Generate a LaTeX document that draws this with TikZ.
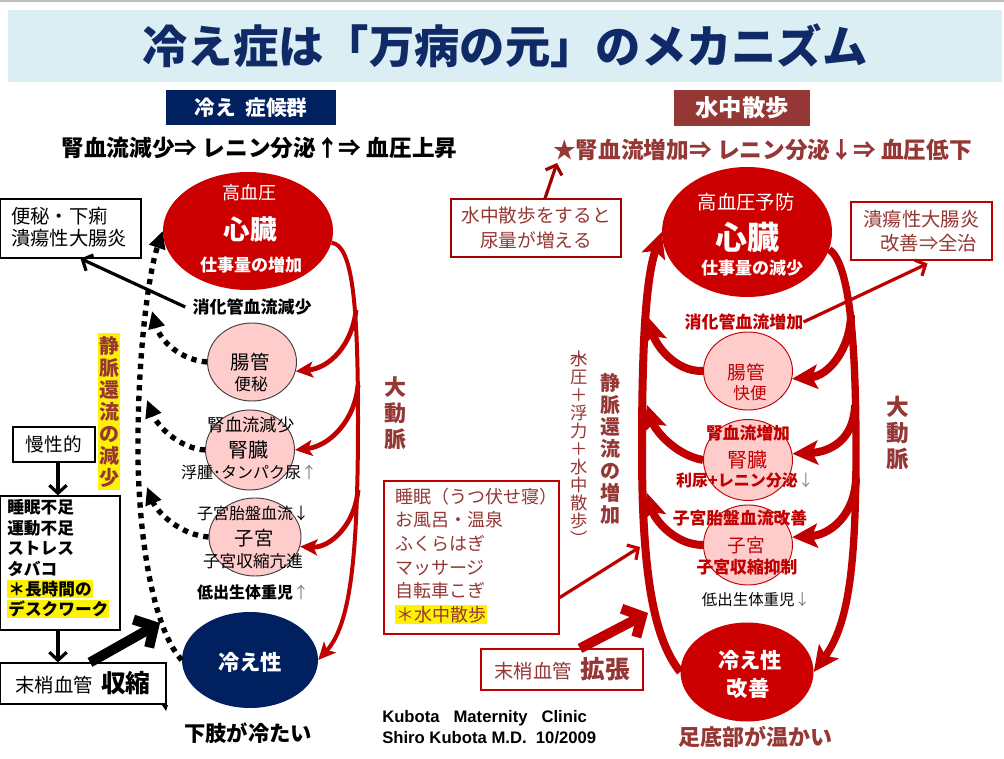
\documentclass[tikz,border=0pt]{standalone}
\usepackage{fontspec}
\setmainfont{Noto Sans CJK JP}
\newfontfamily\latf{Liberation Sans}
\usetikzlibrary{shapes.geometric,arrows.meta,calc}
\definecolor{navy}{HTML}{002060}
\definecolor{cRed}{HTML}{C00000}
\definecolor{hRed}{HTML}{CC0000}
\definecolor{dRed}{HTML}{953735}
\definecolor{pinkc}{HTML}{FFCCCC}
\definecolor{bannerc}{HTML}{DBEEF4}
\definecolor{titlec}{HTML}{0F2A66}
\newcommand\yhl[1]{{\setlength\fboxsep{0.8pt}\colorbox{yellow}{#1}}}
\newcommand\fsz[1]{\fontsize{#1}{\fpeval{1.2*#1}}\selectfont}
\tikzset{
  lbl/.style={inner sep=0pt, align=center},
  organL/.style={ellipse, inner sep=0pt, fill=pinkc, draw=black!75, line width=0.7pt},
  organR/.style={ellipse, inner sep=0pt, fill=pinkc, draw=cRed, line width=0.7pt},
  boxK/.style={draw=black, line width=0.9pt, inner sep=0pt},
  boxR/.style={draw=cRed, line width=0.9pt, inner sep=0pt},
  aortaL/.style={draw=cRed, line width=3pt, -{Stealth[length=13pt,width=12pt,inset=3pt]}},
  branchL/.style={draw=cRed, line width=3.6pt, -{Stealth[length=13pt,width=12pt,inset=3pt]}},
  aortaR/.style={draw=cRed, line width=5.5pt, -{Stealth[length=19pt,width=18pt,inset=4pt]}},
  branchR/.style={draw=cRed, line width=6pt, -{Stealth[length=19pt,width=18pt,inset=4pt]}},
  dotline/.style={draw=black, line width=4pt, dash pattern=on 4pt off 4pt, -{Triangle[length=13pt,width=12pt]}},
  barbK/.style={draw=black, line width=2.4pt, -{Straight Barb[length=6pt,width=13pt]}},
  barbR/.style={draw=cRed, line width=2.4pt, -{Straight Barb[length=6pt,width=13pt]}},
  fatK/.style={draw=black, line width=7.5pt, -{Straight Barb[length=11pt,width=24pt]}},
  fatR/.style={draw=cRed, line width=7.5pt, -{Straight Barb[length=11pt,width=24pt]}},
}
\begin{document}
\begin{tikzpicture}[x=0.75pt,y=-0.75pt]
\useasboundingbox (0,0) rectangle (1004,759);
\fill[white] (0,0) rectangle (1004,759);
\draw[black!25, line width=1pt] (0,1) -- (1004,1);
% banner and title
\node[fill=bannerc, minimum width=745.5pt, minimum height=54pt, inner sep=0pt, anchor=north west] (ban) at (8,10) {};
\node[lbl, text=titlec, font=\fsz{34}\bfseries] (title) at (505,46) {冷え症は「万病の元」のメカニズム};
% headers
\node[fill=navy, text=white, font=\fsz{15.5}\bfseries, minimum width=127.5pt, minimum height=26.25pt, inner sep=0pt] (hL) at (251,107.5) {冷え\ \ 症候群};
\node[fill=dRed, text=white, font=\fsz{17.5}\bfseries, minimum width=102pt, minimum height=27pt, inner sep=0pt] (hR) at (742,108) {水中散歩};
\node[lbl, font=\fsz{17}\bfseries] (sL) at (259.5,148) {腎血流減少⇒ レニン分泌↑⇒ 血圧上昇};
\node[lbl, text=dRed, font=\fsz{17}\bfseries] (sR) at (762.5,150) {★腎血流増加⇒ レニン分泌↓⇒ 血圧低下};

% ---------------- left column ----------------
\node[ellipse, inner sep=0pt, fill=hRed, minimum width=127.5pt, minimum height=88.5pt] (LH) at (248,231) {};
\node[lbl, text=white, font=\fsz{13.5}] (tLH1) at (249,193) {高血圧};
\node[lbl, text=white, font=\fsz{20}\bfseries] (tLH2) at (250,229) {心臓};
\node[lbl, text=white, font=\fsz{12.75}\bfseries] (tLH3) at (251,265) {仕事量の増加};

\node[organL, minimum width=66.75pt, minimum height=58.5pt] (LI) at (252,362) {};
\node[lbl, font=\fsz{14.5}] (tLI1) at (250,362) {腸管};
\node[lbl, font=\fsz{12.5}] (tLI2) at (251,384) {便秘};
\node[lbl, font=\fsz{12.75}\bfseries] (t1) at (252,307) {消化管血流減少};

\node[organL, minimum width=66.75pt, minimum height=60pt] (LK) at (250,450) {};
\node[lbl, font=\fsz{13}] (tLK0) at (251,425) {腎血流減少};
\node[lbl, font=\fsz{15}] (tLK1) at (248,450) {腎臓};
\node[lbl, font=\fsz{12}] (tLK2) at (249,472) {浮腫･タンパク尿{\color{black!50}↑}};

\node[organL, minimum width=69pt, minimum height=58.5pt] (LU) at (255,537) {};
\node[lbl, font=\fsz{12}] (tLU0) at (253,513) {子宮胎盤血流↓};
\node[lbl, font=\fsz{14.5}] (tLU1) at (254,538) {子宮};
\node[lbl, font=\fsz{12.5}] (tLU2) at (253,561) {子宮収縮亢進};
\node[lbl, font=\fsz{12}\bfseries] (tLB1) at (253,592) {低出生体重児{\color{black!50}\mdseries↑}};

\node[ellipse, inner sep=0pt, fill=navy, minimum width=102pt, minimum height=72pt] (LC) at (250,660) {};
\node[lbl, text=white, font=\fsz{16}\bfseries] (tLC) at (250,662) {冷え性};
\node[lbl, font=\fsz{16}\bfseries] (tLC2) at (248,733) {下肢が冷たい};

\node[lbl, text=dRed, font=\fontsize{16.5}{19.5}\selectfont\bfseries] (vL) at (395,413) {大\\動\\脈};
\node[fill=yellow, text=dRed, font=\fontsize{15}{16.5}\selectfont\bfseries, align=center, inner xsep=1pt, inner ysep=2pt] (vY) at (109,411.5) {静\\脈\\還\\流\\の\\減\\少};

\node[boxK, minimum width=105.75pt, minimum height=44.25pt] (LB) at (70.5,228.5) {};
\node[inner sep=0pt, align=left, anchor=west, font=\fontsize{14.5}{16.5}\selectfont] (tLB) at (11,227) {便秘・下痢\\潰瘍性大腸炎};

\node[boxK, minimum width=61.5pt, minimum height=26.25pt, font=\fsz{14}] (m1) at (54,444.5) {慢性的};
\node[boxK, minimum width=90pt, minimum height=100.5pt] (LL) at (60,563) {};
\node[inner sep=0pt, align=left, anchor=west, font=\fontsize{12.5}{15.3}\selectfont\bfseries] (tLL) at (7,559) {睡眠不足\\運動不足\\ストレス\\タバコ\\\yhl{＊長時間の}\\\yhl{デスクワーク}};
\node[boxK, minimum width=124.5pt, minimum height=30.75pt, font=\fsz{14.5}] (LS) at (83,683.5) {末梢血管\ \ {\fsz{18.5}\bfseries 収縮}};
\coordinate (bigK) at (160,623);
\fill[black] (162,705) -- (168,705) -- (166,711) -- cycle;

% left connectors
\coordinate (ab1) at (356,310);
\coordinate (ab2) at (358,385);
\coordinate (ab3) at (358,490);
\draw[aortaL] (LH.-8) .. controls (352,245) and (358,300) .. (358,420) .. controls (358,560) and (350,625) .. (LC.east);
\draw[branchL] (ab1) .. controls (352,345) and (330,368) .. (LI.-12);
\draw[branchL] (ab2) .. controls (355,420) and (330,446) .. (LK.east);
\draw[branchL] (ab3) .. controls (355,525) and (330,548) .. (LU.-12);
\coordinate (dt1) at (152,311);
\coordinate (dt2) at (147,400);
\coordinate (dt3) at (147,487);
\draw[dotline] (LC.west) .. controls (158,635) and (140,560) .. (138,460) .. controls (137,360) and (148,275) .. (LH.west);
\draw[dotline] (LI.west) .. controls (180,360) and (160,340) .. (dt1);
\draw[dotline] (LK.west) .. controls (178,448) and (157,425) .. (dt2);
\draw[dotline] (LU.west) .. controls (180,535) and (157,512) .. (dt3);
\draw[barbK] ($(t1.west)+(-7,0)$) -- ($(LB.south)+(10,0)$);
\draw[barbK] ($(m1.south)+(4,0)$) -- ($(LL.north)+(-2,0)$);
\draw[barbK] ($(LL.south)+(-2,0)$) -- ($(LS.north)+(-25,0)$);
\draw[fatK] ($(LS.north)+(7,0)$) -- (bigK);

% ---------------- right column ----------------
\node[ellipse, inner sep=0pt, fill=hRed, minimum width=127.5pt, minimum height=97.5pt] (RH) at (747,232) {};
\node[lbl, text=white, font=\fsz{14.5}] (tRH1) at (746,202) {高血圧予防};
\node[lbl, text=white, font=\fsz{24}\bfseries] (tRH2) at (747,237) {心臓};
\node[lbl, text=white, font=\fsz{12.75}\bfseries] (tRH3) at (752,268) {仕事量の減少};

\node[organR, minimum width=66.75pt, minimum height=58.5pt] (RI) at (748,371) {};
\node[lbl, text=cRed, font=\fsz{14}] (tRI1) at (746,372) {腸管};
\node[lbl, text=cRed, font=\fsz{12.5}] (tRI2) at (750,393) {快便};
\node[lbl, text=cRed, font=\fsz{12.7}\bfseries] (t2) at (744,322) {消化管血流増加};

\node[organR, minimum width=66.75pt, minimum height=60.75pt] (RK) at (748,460) {};
\node[lbl, text=cRed, font=\fsz{12.6}\bfseries] (tRK0) at (748,433) {腎血流増加};
\node[lbl, text=cRed, font=\fsz{15}] (tRK1) at (747,460) {腎臓};
\node[lbl, text=cRed, font=\fsz{12}\bfseries] (tRK2) at (745,481) {利尿+レニン分泌{\color{black!45}\mdseries↓}};

\node[organR, minimum width=66.75pt, minimum height=60pt] (RU) at (748,545) {};
\node[lbl, text=cRed, font=\fsz{12.6}\bfseries] (tRU0) at (740,518) {子宮胎盤血流改善};
\node[lbl, text=cRed, font=\fsz{14}] (tRU1) at (746,545) {子宮};
\node[lbl, text=cRed, font=\fsz{12.6}\bfseries] (tRU2) at (747,567) {子宮収縮抑制};
\node[lbl, font=\fsz{11.6}] (tRB1) at (756,600) {低出生体重児{\color{black!50}↓}};

\node[ellipse, inner sep=0pt, fill=hRed, minimum width=99.75pt, minimum height=74.25pt] (RC) at (747,672) {};
\node[lbl, text=white, font=\fsz{16}\bfseries] (tRC1) at (750,660) {冷え性};
\node[lbl, text=white, font=\fsz{16}\bfseries] (tRC2) at (748,688) {改善};
\node[lbl, text=dRed, font=\fsz{16.5}\bfseries] (tRC3) at (755,737) {足底部が温かい};

\node[lbl, text=dRed, font=\fontsize{15}{16.5}\selectfont\bfseries] (vR) at (610,449) {静\\脈\\還\\流\\の\\増\\加};
\node[lbl, text=dRed, font=\fontsize{13}{13.5}\selectfont] (vW) at (579,451) {︵\\[-9pt]水\\圧\\＋\\浮\\力\\＋\\水\\中\\散\\歩\\︶};
\node[lbl, text=dRed, font=\fontsize{17}{19.5}\selectfont\bfseries] (vRA) at (898,433) {大\\動\\脈};

\node[draw=cRed!85!black, line width=0.9pt, inner sep=0pt, minimum width=127.5pt, minimum height=43.5pt, text=dRed, align=center, font=\fontsize{14}{18.75}\selectfont] (RW) at (536,228) {水中散歩をすると\\尿量が増える};
\node[boxR, minimum width=105.75pt, minimum height=43.5pt, text=dRed, align=center, font=\fontsize{14.5}{18}\selectfont] (RB) at (921.5,231) {潰瘍性大腸炎\\\hspace*{0.75em}改善⇒全治};
\node[boxR, minimum width=131.25pt, minimum height=114.75pt] (RL) at (471.5,557.5) {};
\node[inner sep=0pt, align=left, anchor=west, text=dRed, font=\fontsize{13.5}{17.7}\selectfont] (tRL) at (395,556) {睡眠（うつ伏せ寝）\\お風呂・温泉\\ふくらはぎ\\マッサージ\\自転車こぎ\\\yhl{＊水中散歩}};
\node[boxR, minimum width=121.5pt, minimum height=30.75pt, text=dRed, font=\fsz{14.5}] (RK2) at (562,669.5) {末梢血管\ \ {\fsz{18.5}\bfseries 拡張}};

\node[inner sep=0pt, anchor=west, font=\latf\bfseries\fontsize{12.5}{14}\selectfont] (cr1) at (382,718) {Kubota\ \ \ Maternity\ \ \ Clinic};
\node[inner sep=0pt, anchor=west, font=\latf\bfseries\fontsize{12.5}{14}\selectfont] (cr2) at (382,738) {Shiro Kubota M.D.\ \ 10/2009};

% right connectors
\coordinate (rb1) at (851,315);
\coordinate (rb2) at (855,405);
\coordinate (rb3) at (856,478);
\draw[aortaR] (RH.-12) .. controls (848,262) and (856,330) .. (856,450) .. controls (856,570) and (848,625) .. (RC.east);
\draw[branchR] (rb1) .. controls (850,350) and (828,376) .. (RI.-10);
\draw[branchR] (rb2) .. controls (854,440) and (830,452) .. (RK.8);
\draw[branchR] (rb3) .. controls (855,515) and (830,535) .. (RU.10);
\coordinate (rt1) at (648,317);
\coordinate (rt2) at (647,405);
\coordinate (rt3) at (647,493);
\draw[branchR] (RC.west) .. controls (655,640) and (642,580) .. (642,450) .. controls (642,330) and (647,275) .. (RH.west);
\draw[branchR] (RI.west) .. controls (675,372) and (656,345) .. (rt1);
\draw[branchR] (RK.west) .. controls (675,455) and (655,430) .. (rt2);
\draw[branchR] (RU.west) .. controls (675,545) and (655,520) .. (rt3);
\coordinate (lt) at (640,547);
\coordinate (bigR) at (648,613);
\coordinate (st) at (557,163);
\draw[barbR] (t2.east) -- ($(RB.south)+(6,3)$);
\draw[barbR] ($(RL.south east)+(0,-37)$) -- (lt);
\draw[fatR] ($(RK2.north)+(18,0)$) -- (bigR);
\draw[barbR, draw=cRed!85!black] ($(RW.north)+(9,0)$) -- (st);
\end{tikzpicture}
\end{document}
